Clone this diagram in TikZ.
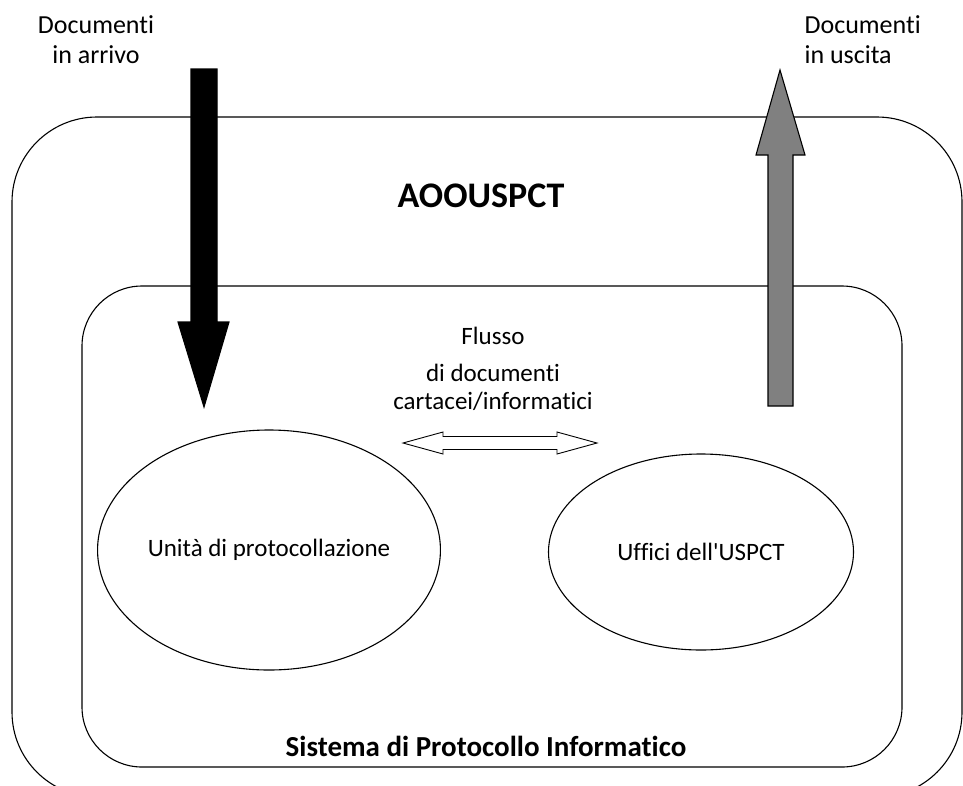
\documentclass[tikz,border=0pt]{standalone}
\usepackage{fontspec}
\setmainfont{Carlito}[Ligatures = {TeXOff, NoCommon}]
\usetikzlibrary{shapes.geometric}

\begin{document}
\begin{tikzpicture}[
        x = 1pt, y = -1pt, % pixel units, y pointing down
        line width = 1.1pt, % line style
        line join = miter
    ]

    \tikzstyle{label}=[
    inner sep = 0pt,
    font = \fontsize{26}{30}\selectfont
    ]
    \tikzstyle{title}=[
    inner sep = 0pt,
    font = \bfseries\fontsize{36}{40}\selectfont
    ]
    \tikzstyle{office}=[
    draw = black,
    ellipse,
    inner sep = 0pt,
    font = \fontsize{25}{30}\selectfont
    ]

    \useasboundingbox (0,0) rectangle (963,785);

    % outer box and inner box
    \draw[rounded corners = 85pt] (12,117) rectangle (962,797);
    \draw[rounded corners = 60pt] (82,286) rectangle (902,767);

    % incoming and outgoing documents
    \draw[fill = black] (191,69) -- (217,69) -- (217,322) -- (229,322)
        -- (204,407) -- (178,322) -- (191,322) -- cycle;
    \draw[fill = gray] (768,406) -- (793,406) -- (793,155) -- (805,155)
        -- (780,70) -- (756,155) -- (768,155) -- cycle;

    % (base anchor sits on the last line)
    \node[label, align = center, anchor = base] (inDocs) at (96,63) {Documenti\\in arrivo};
    \node[label, align = left, anchor = base west] (outDocs) at (804,63) {Documenti\\in uscita};

    \node[title, anchor = base] (aoo) at (481,207) {AOOUSPCT};

    % offices
    \node[office, minimum width = 326pt, minimum height = 240pt] (unita) at (269,550) {Unità di protocollazione};
    \node[office, minimum width = 305pt, minimum height = 196pt] (uffici) at (701,552) {Uffici dell'USPCT};

    % flow between offices
    \node[label, align = center, anchor = base, font = \fontsize{25}{28}\selectfont] (flusso) at (493,409)
        {Flusso\\[9pt]di documenti\\cartacei/informatici};
    \draw[line width = 0.9pt] (403,443) -- (443,432) -- (443,436.5) -- (557,436.5) -- (557,432)
        -- (597,443) -- (557,454) -- (557,449.5) -- (443,449.5) -- (443,454) -- cycle;

    \node[title, anchor = base, font = \bfseries\fontsize{29}{32}\selectfont] (sistema) at (486,756)
        {Sistema di Protocollo Informatico};
\end{tikzpicture}
\end{document}
